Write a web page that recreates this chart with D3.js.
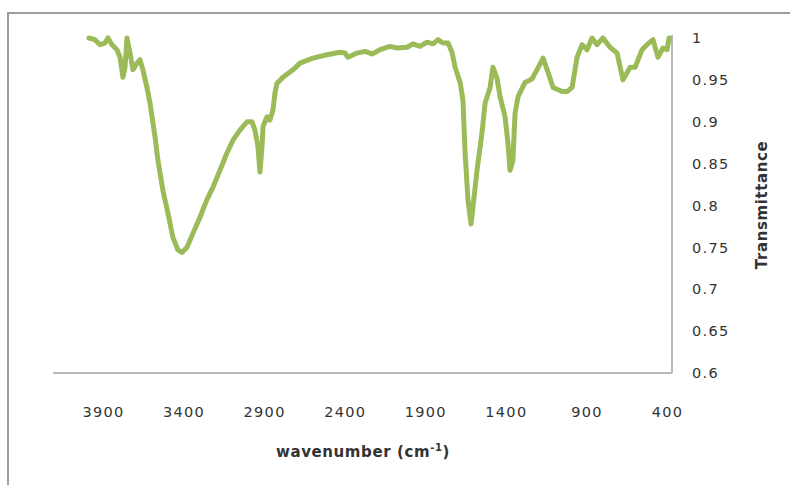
<!DOCTYPE html>
<html>
<head>
<meta charset="utf-8">
<script src="https://cdn.jsdelivr.net/npm/d3@7"></script>
<style>
  body { margin: 0; background: #fff; }
  svg text { font-family: "DejaVu Sans", sans-serif; fill: #333; }
  .tick-label { font-size: 14.5px; letter-spacing: 1.3px; }
  .axis-label { font-size: 15px; font-weight: bold; letter-spacing: 0.6px; }
</style>
</head>
<body>
<div id="chart"></div>
<script>
// IR spectrum
const wavenumber = [3987, 3950, 3919, 3888, 3869, 3844, 3813, 3794, 3776, 3763, 3751, 3732, 3714, 3689, 3670, 3652,
  3627, 3608, 3590, 3577, 3559, 3528, 3497, 3466, 3435, 3410, 3379, 3341, 3298, 3255, 3217, 3174, 3130, 3093,
  3050, 3006, 2975, 2957, 2938, 2926, 2913, 2907, 2882, 2864, 2845, 2833, 2820, 2783, 2721, 2677, 2597, 2510,
  2429, 2398, 2380, 2324, 2274, 2231, 2181, 2119, 2075, 2013, 1976, 1933, 1889, 1852, 1821, 1790, 1759, 1734,
  1715, 1684, 1666, 1653, 1635, 1616, 1604, 1579, 1548, 1529, 1498, 1480, 1455, 1436, 1405, 1387, 1374, 1356,
  1343, 1324, 1281, 1238, 1207, 1169, 1138, 1107, 1051, 1020, 989, 958, 927, 896, 865, 834, 797, 754, 710, 673,
  629, 598, 555, 524, 487, 456, 425, 400, 387];
const transmittance = [1.0, 0.998, 0.992, 0.994, 1.0, 0.992, 0.986, 0.977, 0.953, 0.965, 1.0, 0.982, 0.962, 0.970, 0.974, 0.962,
  0.941, 0.922, 0.899, 0.882, 0.854, 0.818, 0.791, 0.762, 0.747, 0.744, 0.750, 0.767, 0.786, 0.807, 0.822, 0.842, 0.863, 0.878,
  0.890, 0.900, 0.900, 0.890, 0.870, 0.840, 0.870, 0.894, 0.906, 0.902, 0.914, 0.934, 0.946, 0.953, 0.962, 0.970, 0.976, 0.980,
  0.983, 0.982, 0.977, 0.982, 0.984, 0.981, 0.986, 0.990, 0.988, 0.989, 0.993, 0.990, 0.995, 0.993, 0.998, 0.994, 0.994, 0.983,
  0.965, 0.947, 0.926, 0.863, 0.807, 0.778, 0.798, 0.842, 0.887, 0.922, 0.941, 0.965, 0.952, 0.930, 0.906, 0.875, 0.842, 0.854,
  0.910, 0.930, 0.947, 0.951, 0.962, 0.976, 0.959, 0.941, 0.936, 0.936, 0.941, 0.977, 0.992, 0.986, 1.0, 0.992, 1.0, 0.989, 0.982, 0.950,
  0.965, 0.965, 0.986, 0.992, 0.998, 0.977, 0.988, 0.986, 1.0];
const xTicks = [3900, 3400, 2900, 2400, 1900, 1400, 900, 400];
const yTicks = [0.6, 0.65, 0.7, 0.75, 0.8, 0.85, 0.9, 0.95, 1];

const data = wavenumber.map((w, i) => ({ x: w, y: transmittance[i] }));

const svg = d3.select('#chart').append('svg')
  .attr('width', 790)
  .attr('height', 485);

// outer chart frame
svg.append('rect')
  .attr('x', 8).attr('y', 13)
  .attr('width', 800).attr('height', 500)
  .attr('fill', 'none')
  .attr('stroke', '#9c9c9c')
  .attr('stroke-width', 2);

const plot = { left: 53, right: 672, top: 38, bottom: 373 };

// x runs high -> low, the way the spectrum is plotted
const xScale = d3.scaleLinear()
  .domain([4210, 369])
  .range([plot.left, plot.right]);
const yScale = d3.scaleLinear()
  .domain([0.6, 1])
  .range([plot.bottom, plot.top]);

// axis lines (bottom + right)
svg.append('line')
  .attr('x1', plot.left).attr('x2', plot.right)
  .attr('y1', plot.bottom).attr('y2', plot.bottom)
  .attr('stroke', '#a0a0a0').attr('stroke-width', 1.5);
svg.append('line')
  .attr('x1', plot.right).attr('x2', plot.right)
  .attr('y1', 35).attr('y2', plot.bottom)
  .attr('stroke', '#a0a0a0').attr('stroke-width', 1.5);

const xAxis = d3.axisBottom(xScale)
  .tickValues(xTicks)
  .tickSize(0)
  .tickPadding(0)
  .tickFormat(d3.format('d'));
const xAxisG = svg.append('g')
  .attr('transform', `translate(0, 407)`)
  .call(xAxis);
xAxisG.select('.domain').remove();
xAxisG.selectAll('text').attr('class', 'tick-label').attr('fill', null).attr('dy', '0.71em');

const yAxis = d3.axisRight(yScale)
  .tickValues(yTicks)
  .tickSize(0)
  .tickPadding(0)
  .tickFormat(d => d3.format('')(d));
const yAxisG = svg.append('g')
  .attr('transform', `translate(692, 0)`)
  .call(yAxis);
yAxisG.select('.domain').remove();
yAxisG.selectAll('text').attr('class', 'tick-label').attr('fill', null);

// axis titles
const xt = svg.append('text')
  .attr('class', 'axis-label')
  .attr('x', 363)
  .attr('y', 457)
  .style('text-anchor', 'middle');
xt.append('tspan').text('wavenumber (cm');
xt.append('tspan').attr('dy', -6).style('font-size', '10px').text('-1');
xt.append('tspan').attr('dy', 6).text(')');

svg.append('text')
  .attr('class', 'axis-label')
  .attr('transform', 'translate(767, 205) rotate(-90)')
  .style('text-anchor', 'middle')
  .text('Transmittance');

// spectrum
const line = d3.line()
  .x(d => xScale(d.x))
  .y(d => yScale(d.y));

svg.append('path')
  .datum(data)
  .attr('d', line)
  .attr('fill', 'none')
  .attr('stroke', '#9BBB59')
  .attr('stroke-width', 5)
  .attr('stroke-linejoin', 'round')
  .attr('stroke-linecap', 'round');
</script>
</body>
</html>
